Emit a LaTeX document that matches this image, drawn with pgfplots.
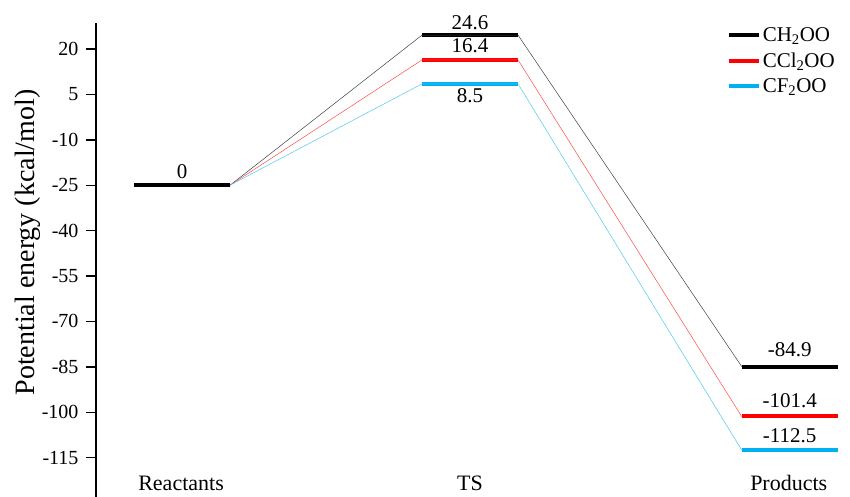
\documentclass[border=0pt]{standalone}
\usepackage{pgfplots}
\pgfplotsset{compat=1.18}
\usepackage{fontspec}
\setmainfont{Liberation Serif}

\definecolor{chtwo}{RGB}{0,0,0}
\definecolor{ccltwo}{RGB}{255,0,0}
\definecolor{cftwo}{RGB}{0,176,240}

\begin{document}
\begin{tikzpicture}
\begin{axis}[
    scale only axis,
    width=754pt, height=474pt,
    xmin=-0.396, xmax=7.458,
    ymin=-128, ymax=28.6,
    clip=false,
    axis x line=none,
    axis y line=left,
    y axis line style={-, line width=1.6pt},
    ytick={-115,-100,-85,-70,-55,-40,-25,-10,5,20},
    ytick pos=left,
    tick align=outside,
    major tick length=10pt,
    every tick/.style={black, line width=1.4pt},
    yticklabel style={font=\fontsize{20}{24}\selectfont, xshift=-4pt},
    /pgf/number format/assume math mode=true,
    unbounded coords=jump,
    legend style={draw=none, fill=none, at={(rel axis cs:1,1)}, anchor=north east,
        xshift=-10pt, yshift=0pt,
        font=\fontsize{21}{25}\selectfont, row sep=6pt},
    legend cell align=left,
    legend image code/.code={
        \path (0pt,0pt) -- (30pt,0pt);
        \draw[line width=4pt] (0pt,0pt) -- (23pt,0pt);},
]

% energy levels of the three species (reactants, TS, products)
\addplot[chtwo, line width=4pt] coordinates {(0,-25) (1,-25) (2,nan) (3,24.6) (4,24.6) (5,nan) (6.33,-84.9) (7.33,-84.9)};
\addlegendentry{CH\textsubscript{2}OO}
\addplot[ccltwo, line width=4pt] coordinates {(3,16.4) (4,16.4) (5,nan) (6.33,-101.4) (7.33,-101.4)};
\addlegendentry{CCl\textsubscript{2}OO}
\addplot[cftwo, line width=4pt] coordinates {(3,8.5) (4,8.5) (5,nan) (6.33,-112.5) (7.33,-112.5)};
\addlegendentry{CF\textsubscript{2}OO}

% thin connectors between the levels
\addplot[chtwo!75, line width=0.5pt, forget plot] coordinates {(1,-25) (3,24.6) (4,24.6) (6.33,-84.9)};
\addplot[ccltwo!70, line width=0.5pt, forget plot] coordinates {(1,-25) (3,16.4) (4,16.4) (6.33,-101.4)};
\addplot[cftwo!70, line width=0.5pt, forget plot] coordinates {(1,-25) (3,8.5) (4,8.5) (6.33,-112.5)};

% redraw the shared reactant level on top
\addplot[chtwo, line width=4pt, forget plot] coordinates {(0,-25) (1,-25)};

% value labels
\begin{scope}[every node/.style={font=\fontsize{21}{25}\selectfont, inner sep=0pt}]
\node[anchor=base] at ([yshift=7pt]axis cs:0.5,-25) {0};
\node[anchor=base] at ([yshift=6pt]axis cs:3.5,24.6) {24.6};
\node[anchor=base] at ([yshift=7pt]axis cs:3.5,16.4) {16.4};
\node[anchor=north] at ([yshift=-5pt]axis cs:3.5,8.5) {8.5};
\node[anchor=base] at ([yshift=10pt]axis cs:6.83,-84.9) {-84.9};
\node[anchor=base] at ([yshift=9pt]axis cs:6.83,-101.4) {-101.4};
\node[anchor=base] at ([yshift=8pt]axis cs:6.83,-112.5) {-112.5};
\end{scope}
% stage names
\begin{scope}[every node/.style={font=\fontsize{22}{26}\selectfont, inner sep=0pt}]
\node at (axis cs:0.49,-123.4) {Reactants};
\node at (axis cs:3.5,-123.4) {TS};
\node at (axis cs:6.82,-123.4) {Products};
\end{scope}

\node[rotate=90, font=\fontsize{28}{32}\selectfont, inner sep=0pt]
    at ([xshift=-68pt]rel axis cs:0,0.537) {Potential energy (kcal/mol)};
\end{axis}
\pgfresetboundingbox
\path[use as bounding box] ([xshift=-96pt]current axis.south west) rectangle ([yshift=23pt]current axis.north east);
\end{tikzpicture}
\end{document}
